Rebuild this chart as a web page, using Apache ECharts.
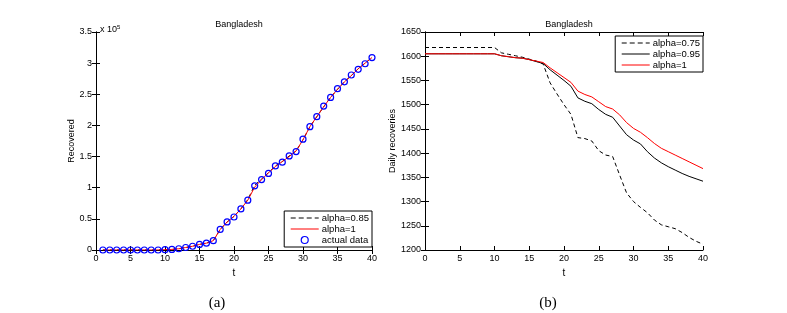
<!DOCTYPE html>
<html><head><meta charset="utf-8">
<script src="https://cdn.jsdelivr.net/npm/echarts@6/dist/echarts.min.js"></script>
<style>html,body{margin:0;padding:0;background:#fff}#c{width:787px;height:313px}</style>
</head><body><div id="c"></div>
<script>
// ---------- Data ----------
// Panel (a): cumulative recovered (units of 1e5)
const tA = [1,2,3,4,5,6,7,8,9,10,11,12,13,14,15,16,17,18,19,20,21,22,23,24,25,26,27,28,29,30,31,32,33,34,35,36,37,38,39,40];
const actualData = [0,0,0,0,0,0,0,0,0,0.005,0.01,0.02,0.04,0.06,0.09,0.11,0.15,0.33,0.45,0.53,0.66,0.80,1.03,1.13,1.23,1.35,1.41,1.51,1.58,1.78,1.98,2.14,2.31,2.45,2.59,2.70,2.81,2.90,2.99,3.09];
const alpha1A = [0,0,0,0,0,0,0,0,0,0.005,0.01,0.02,0.04,0.06,0.09,0.11,0.15,0.33,0.45,0.54,0.66,0.80,1.01,1.13,1.24,1.34,1.42,1.50,1.59,1.77,1.98,2.14,2.30,2.45,2.58,2.70,2.80,2.91,3.00,3.09];
const alpha085A = [0,0,0,0,0,0,0,0,0,0.005,0.01,0.02,0.04,0.06,0.09,0.11,0.15,0.33,0.45,0.54,0.66,0.81,1.04,1.14,1.24,1.35,1.42,1.51,1.59,1.77,1.98,2.14,2.30,2.45,2.58,2.70,2.80,2.91,3.00,3.09];
const yTicksA = [0,0.5,1,1.5,2,2.5,3,3.5];

// Panel (b): daily recoveries
const tB = [0,1,2,3,4,5,6,7,8,9,10,11,12,13,14,15,16,17,18,19,20,21,22,23,24,25,26,27,28,29,30,31,32,33,34,35,36,37,38,39,40];
const alpha075B = [1618,1618,1618,1618,1618,1618,1618,1618,1618,1618,1618,1607,1604,1601,1598,1594,1590,1584,1545,1522,1500,1480,1432,1430,1425,1405,1396,1393,1355,1318,1300,1288,1277,1262,1252,1248,1244,1236,1226,1218,1212];
const alpha095B = [1605,1605,1605,1605,1605,1605,1605,1605,1605,1605,1605,1601,1599,1597,1596,1593,1589,1585,1572,1561,1550,1538,1514,1507,1502,1490,1480,1474,1456,1438,1427,1419,1403,1390,1380,1372,1365,1358,1352,1347,1342];
const alpha1B = [1605,1605,1605,1605,1605,1605,1605,1605,1605,1605,1605,1601,1599,1597,1596,1593,1590,1587,1576,1566,1556,1546,1528,1521,1516,1506,1496,1491,1479,1463,1451,1443,1432,1420,1410,1403,1396,1389,1382,1375,1368];

const xTicks = [0,5,10,15,20,25,30,35,40];

// ---------- Chart ----------
const F = 'Liberation Sans, Arial, sans-serif';
const pairs = (xs, ys) => xs.map((x, i) => [x, ys[i]]);
const tickStyle = {show:true, inside:true, length:4, lineStyle:{color:'#000', width:1}};
const axLine = {show:true, lineStyle:{color:'#000', width:1}};
const lbl = {color:'#000', fontFamily:F, fontSize:9};
const noSym = {color:'rgba(0,0,0,0)', borderColor:'rgba(0,0,0,0)', borderWidth:0, opacity:0};
const dashLeg = {width:1, type:[5,3]};
const solidLeg = {width:1};

function xAxes(gi){
  return [
    {type:'value', gridIndex:gi, min:xTicks[0], max:xTicks[xTicks.length-1], interval:5, position:'bottom',
     axisLine:axLine, axisTick:tickStyle, splitLine:{show:false}, axisLabel:Object.assign({margin:4}, lbl),
     name:'t', nameLocation:'middle', nameGap:15, nameTextStyle:{color:'#000', fontFamily:F, fontSize:10}},
    {type:'value', gridIndex:gi, min:xTicks[0], max:xTicks[xTicks.length-1], interval:5, position:'top',
     axisLine:axLine, axisTick:tickStyle, splitLine:{show:false}, axisLabel:{show:false}}
  ];
}
function yAxes(gi, mn, mx, iv, name, gap, fmt){
  return [
    {type:'value', gridIndex:gi, min:mn, max:mx, interval:iv, position:'left',
     axisLine:axLine, axisTick:tickStyle, splitLine:{show:false},
     axisLabel:Object.assign({margin:4, formatter:fmt}, lbl),
     name:name, nameLocation:'middle', nameGap:gap, nameTextStyle:{color:'#000', fontFamily:F, fontSize:9}},
    {type:'value', gridIndex:gi, min:mn, max:mx, interval:iv, position:'right',
     axisLine:axLine, axisTick:tickStyle, splitLine:{show:false}, axisLabel:{show:false}}
  ];
}

const chart = echarts.init(document.getElementById('c'), null, {renderer:'canvas'});
const legendCommon = {orient:'vertical', align:'left',
  backgroundColor:'#fff', borderColor:'#000', borderWidth:1, borderRadius:0, padding:[2,3,2,6], itemGap:1,
  itemWidth:28, itemHeight:7, lineStyle:{width:1},
  textStyle:{fontFamily:F, fontSize:9.5, color:'#000', padding:[0,0,0,-2]}};
const option = {
  animation:false,
  backgroundColor:'#fff',
  grid:[
    {left:96, right:415, top:32, bottom:63},
    {left:425, right:84, top:32, bottom:63}
  ],
  title:[
    {text:'Bangladesh', left:234, top:15, textAlign:'center', textStyle:{fontFamily:F, fontSize:9, fontWeight:'normal', color:'#000'}},
    {text:'Bangladesh', left:564, top:15, textAlign:'center', textStyle:{fontFamily:F, fontSize:9, fontWeight:'normal', color:'#000'}},
    {text:'{a|x 10}{s|5}', left:95, top:19, textStyle:{fontWeight:'normal', rich:{a:{fontFamily:F, fontSize:9, fontWeight:'normal', color:'#000'}, s:{fontFamily:F, fontSize:6, fontWeight:'normal', color:'#000', verticalAlign:'top', padding:[0,0,6,0]}}}},
    {text:'(a)', left:212, top:291, textAlign:'center', textStyle:{fontFamily:'Liberation Serif, Times New Roman, serif', fontSize:15, fontWeight:'normal', color:'#000'}},
    {text:'(b)', left:543, top:291, textAlign:'center', textStyle:{fontFamily:'Liberation Serif, Times New Roman, serif', fontSize:15, fontWeight:'normal', color:'#000'}}
  ],
  legend:[
    Object.assign({data:[
      {name:'alpha=0.85', itemStyle:noSym, lineStyle:dashLeg},
      {name:'alpha=1', itemStyle:noSym, lineStyle:solidLeg},
      {name:'actual data', itemStyle:{color:'rgba(0,0,0,0)', borderColor:'#0000ff', borderWidth:1.2}}
    ], right:415, top:211}, legendCommon),
    Object.assign({data:[
      {name:'alpha=0.75', itemStyle:noSym, lineStyle:dashLeg},
      {name:'alpha=0.95', itemStyle:noSym, lineStyle:solidLeg},
      {name:'alpha=1 ', itemStyle:noSym, lineStyle:solidLeg}
    ], right:84, top:36}, legendCommon)
  ],
  xAxis:[...xAxes(0), ...xAxes(1)],
  yAxis:[
    ...yAxes(0, yTicksA[0], yTicksA[yTicksA.length-1], 0.5, 'Recovered', 17, v => String(v)),
    ...yAxes(1, 1200, 1650, 50, 'Daily recoveries', 26, v => String(v))
  ],
  series:[
    {name:'alpha=0.85', type:'line', xAxisIndex:0, yAxisIndex:0, data:pairs(tA, alpha085A), symbol:'none',
     lineStyle:{color:'#000', width:1, type:[4,3]}, itemStyle:{color:'#000'}, z:2},
    {name:'alpha=1', type:'line', xAxisIndex:0, yAxisIndex:0, data:pairs(tA, alpha1A), symbol:'none',
     lineStyle:{color:'#ff0000', width:1}, itemStyle:{color:'#ff0000'}, z:3},
    {name:'actual data', type:'scatter', xAxisIndex:0, yAxisIndex:0, data:pairs(tA, actualData), symbol:'circle', symbolSize:6,
     itemStyle:{color:'rgba(0,0,0,0)', borderColor:'#0000ff', borderWidth:1.2, opacity:1}, z:4},
    {name:'alpha=0.75', type:'line', xAxisIndex:2, yAxisIndex:2, data:pairs(tB, alpha075B), symbol:'none',
     lineStyle:{color:'#000', width:1, type:[4,3]}, itemStyle:{color:'#000'}, z:2},
    {name:'alpha=0.95', type:'line', xAxisIndex:2, yAxisIndex:2, data:pairs(tB, alpha095B), symbol:'none',
     lineStyle:{color:'#000', width:1}, itemStyle:{color:'#000'}, z:3},
    {name:'alpha=1 ', type:'line', xAxisIndex:2, yAxisIndex:2, data:pairs(tB, alpha1B), symbol:'none',
     lineStyle:{color:'#ff0000', width:1}, itemStyle:{color:'#ff0000'}, z:4}
  ]
};
chart.setOption(option);
</script>
</body></html>
